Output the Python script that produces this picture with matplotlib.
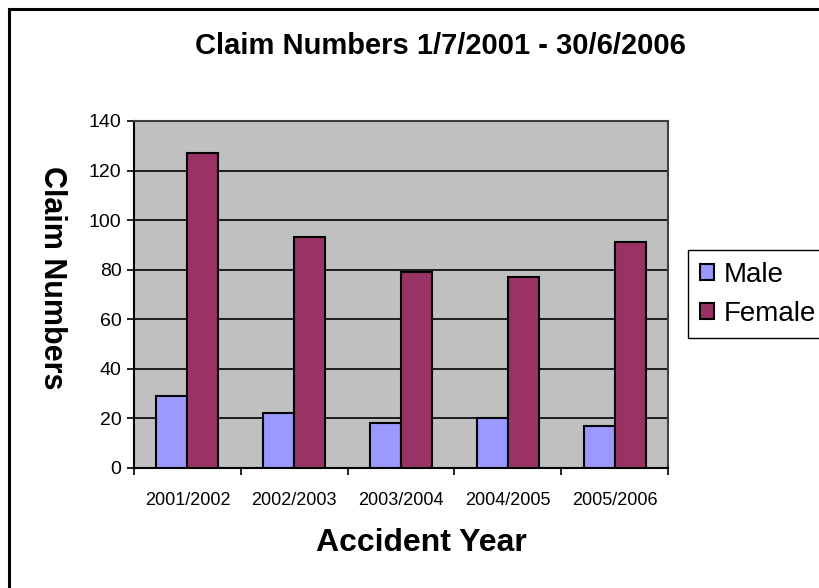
import numpy as np
import matplotlib
matplotlib.use('Agg')
import matplotlib.pyplot as plt
from matplotlib.lines import Line2D

plt.rcParams['font.family'] = ['Liberation Sans', 'DejaVu Sans']

years = ['2001/2002', '2002/2003', '2003/2004', '2004/2005', '2005/2006']
male = [29, 22, 18, 20, 17]
female = [127, 93, 79, 77, 91]

c_male = '#9999FF'
c_female = '#993366'
c_fondo = '#C0C0C0'

fig = plt.figure(figsize=(8.19, 5.88), dpi=100)
ax = fig.add_axes([134 / 819, 1 - 468 / 588, (668 - 134) / 819, (468 - 121) / 588])
ax.set_facecolor(c_fondo)

x = np.arange(len(years))
w = 0.29
ax.bar(x - w / 2, male, w, color=c_male, edgecolor='black', linewidth=1.5, label='Male', zorder=3)
ax.bar(x + w / 2, female, w, color=c_female, edgecolor='black', linewidth=1.5, label='Female', zorder=3)

ax.set_xlim(-0.5, len(years) - 0.5)
ax.set_ylim(0, 140)
ax.set_yticks(range(0, 141, 20))
ax.yaxis.grid(True, color='black', linewidth=1.2, zorder=1)
ax.set_axisbelow(True)

# ticks at category edges, labels at centres
ax.set_xticks(np.arange(-0.5, len(years), 1))
ax.set_xticklabels([])
ax.set_xticks(x, minor=True)
ax.set_xticklabels(years, minor=True, fontsize=13)
ax.tick_params(axis='x', which='major', direction='out', length=5, width=1.2, color='black')
ax.tick_params(axis='x', which='minor', length=0, pad=17)
ax.tick_params(axis='y', direction='out', length=5, width=1.2, labelsize=14, pad=4)

for s in ['top', 'right']:
    ax.spines[s].set_color('#404040')
    ax.spines[s].set_linewidth(1.5)
for s in ['left', 'bottom']:
    ax.spines[s].set_color('black')
    ax.spines[s].set_linewidth(1.5)

fig.text(440 / 819, 1 - 46 / 588, 'Claim Numbers 1/7/2001 - 30/6/2006',
         ha='center', va='center', fontsize=21, fontweight='bold')
fig.text(421 / 819, 1 - 543 / 588, 'Accident Year',
         ha='center', va='center', fontsize=23, fontweight='bold')
fig.text(52 / 819, 1 - 278 / 588, 'Claim Numbers', rotation=-90,
         ha='center', va='center', fontsize=22, fontweight='bold')

leg = fig.legend(loc='upper left', bbox_to_anchor=(688 / 819, 1 - 250 / 588),
                 fontsize=20, frameon=True, fancybox=False, framealpha=1,
                 handlelength=0.5, handleheight=0.5, handletextpad=0.35,
                 borderpad=0.42, labelspacing=0.47, borderaxespad=0)
leg.get_frame().set_edgecolor('black')
leg.get_frame().set_linewidth(1)

# marco del grafico (solo arriba e izquierda visibles)
fig.add_artist(Line2D([9 / 819, 1], [1 - 9 / 588, 1 - 9 / 588], color='black', linewidth=2.2,
                      transform=fig.transFigure))
fig.add_artist(Line2D([9 / 819, 9 / 819], [0, 1 - 9 / 588], color='black', linewidth=2.2,
                      transform=fig.transFigure))

fig.savefig('out.png', dpi=100)
